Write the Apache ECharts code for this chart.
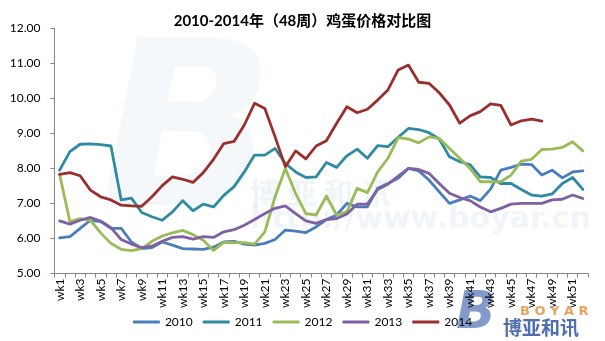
<!DOCTYPE html>
<html>
<head>
<meta charset="utf-8">
<script src="https://cdn.jsdelivr.net/npm/echarts@6/dist/echarts.min.js"></script>
<style>html,body{margin:0;padding:0;background:#fff}#c{width:605px;height:341px}</style>
</head>
<body>
<div id="c"></div>
<script>
var titleText = '2010-2014年（48周）鸡蛋价格对比图';
var weeks = [];
for (var w = 1; w <= 52; w++) weeks.push('wk' + w);
var yTicks = [5, 12, 1];
var seriesNames = ['2010', '2011', '2012', '2013', '2014'];

var v2010 = [6.02,6.05,6.29,6.52,6.48,6.29,6.29,5.90,5.71,5.74,5.90,5.81,5.71,5.70,5.69,5.75,5.90,5.92,5.84,5.81,5.86,5.97,6.24,6.21,6.17,6.33,6.54,6.67,7.00,6.90,6.90,7.43,7.57,7.72,8.00,7.93,7.67,7.33,7.00,7.10,7.21,7.08,7.41,7.95,8.03,8.12,8.11,7.81,7.95,7.73,7.90,7.93];
var v2011 = [7.95,8.48,8.69,8.70,8.68,8.64,7.10,7.15,6.74,6.62,6.52,6.76,7.08,6.79,6.98,6.90,7.23,7.48,7.90,8.38,8.38,8.57,8.14,7.90,7.74,7.76,8.17,8.03,8.36,8.55,8.29,8.65,8.62,8.89,9.14,9.11,9.02,8.84,8.33,8.19,8.11,7.76,7.74,7.57,7.57,7.40,7.24,7.21,7.27,7.57,7.74,7.40];
var v2012 = [7.83,6.48,6.57,6.52,6.16,5.86,5.69,5.65,5.71,5.92,6.07,6.16,6.23,6.11,5.95,5.66,5.89,5.88,5.88,5.84,6.19,7.19,8.00,7.29,6.71,6.67,7.21,6.67,6.76,7.43,7.31,7.90,8.29,8.88,8.84,8.73,8.90,8.86,8.57,8.29,8.00,7.62,7.62,7.62,7.81,8.21,8.26,8.54,8.55,8.60,8.76,8.50];
var v2013 = [6.50,6.41,6.52,6.60,6.50,6.31,5.97,5.84,5.74,5.78,5.92,6.03,6.05,5.98,6.05,6.03,6.19,6.25,6.38,6.54,6.71,6.86,6.93,6.71,6.50,6.43,6.54,6.57,6.70,6.98,6.98,7.40,7.55,7.78,8.00,7.97,7.86,7.57,7.29,7.17,7.08,6.90,6.76,6.86,6.98,7.00,7.00,7.00,7.10,7.12,7.24,7.14];
var v2014 = [7.83,7.88,7.79,7.38,7.19,7.10,6.95,6.93,6.92,7.19,7.51,7.76,7.69,7.60,7.88,8.26,8.71,8.77,9.24,9.86,9.71,8.90,8.05,8.50,8.27,8.64,8.79,9.29,9.76,9.59,9.69,9.95,10.24,10.81,10.95,10.46,10.43,10.16,9.81,9.29,9.50,9.62,9.84,9.80,9.24,9.36,9.41,9.35];

var values = [v2010, v2011, v2012, v2013, v2014];
var colors = ['#4a7ebb', '#2e8ba2', '#9bbb59', '#7f60a2', '#9b2f2d'];
var FONT = 'Lato, "Noto Sans CJK SC", sans-serif';

var chart = echarts.init(document.getElementById('c'), null, {renderer: 'canvas'});
chart.setOption({
  backgroundColor: '#ffffff',
  animation: false,
  color: colors,
  title: {
    text: titleText,
    left: 'center',
    top: 9,
    textStyle: {fontFamily: FONT, fontSize: 15, fontWeight: 'bold', color: '#000'}
  },
  graphic: [
    {type: 'text', left: 100, top: 30, z: 0, silent: true,
     style: {text: 'B', font: 'italic bold 230px "DejaVu Sans"', fill: 'rgba(79,129,189,0.06)'}},
    {type: 'text', left: 250, top: 178, z: 0, silent: true,
     style: {text: '博 亚 和 讯', font: 'bold 30px "Noto Sans CJK SC"', fill: 'rgba(79,129,189,0.09)'}},
    {type: 'text', left: 250, top: 205, z: 0, silent: true,
     style: {text: 'http://www.boyar.cn', font: 'bold 30px "DejaVu Sans"', fill: 'rgba(79,129,189,0.08)'}},
    {type: 'text', left: 456, top: 288, z: 0, silent: true,
     style: {text: 'B', font: 'italic bold 52px "DejaVu Sans"', fill: 'rgba(79,111,180,0.7)'}},
    {type: 'text', left: 520, top: 305, z: 10, silent: true,
     style: {text: 'B O Y A R', font: 'bold 13px "DejaVu Sans"', fill: '#e9a25b'}},
    {type: 'text', left: 503, top: 318, z: 10, silent: true,
     style: {text: '博亚和讯', font: 'bold 19px "Noto Sans CJK SC"', fill: '#4f6fb1'}}
  ],
  legend: {
    bottom: 8,
    left: 'center',
    icon: 'roundRect',
    itemWidth: 27,
    itemHeight: 3,
    itemGap: 10,
    textStyle: {fontFamily: FONT, fontSize: 12, color: '#000'},
    data: seriesNames
  },
  grid: {left: 54.5, right: 17, top: 28.3, bottom: 67.5, containLabel: false},
  xAxis: {
    type: 'category',
    data: weeks,
    boundaryGap: true,
    axisLine: {lineStyle: {color: '#868686', width: 1}},
    axisTick: {show: true, length: 4, interval: 0, lineStyle: {color: '#868686'}},
    axisLabel: {interval: 1, rotate: 90, fontFamily: FONT, fontSize: 12, color: '#000', margin: 5}
  },
  yAxis: {
    type: 'value',
    min: yTicks[0],
    max: yTicks[1],
    interval: yTicks[2],
    splitLine: {show: false},
    axisLine: {show: true, lineStyle: {color: '#868686', width: 1}},
    axisTick: {show: true, length: 4, lineStyle: {color: '#868686'}},
    axisLabel: {fontFamily: FONT, fontSize: 12, color: '#000', margin: 14,
      formatter: function (v) { return v.toFixed(2); }}
  },
  series: seriesNames.map(function (n, k) {
    return {
      name: n,
      type: 'line',
      data: values[k],
      symbol: 'none',
      smooth: false,
      lineStyle: {width: 2.8, color: colors[k], join: 'round', cap: 'round'},
      z: 3 + k
    };
  })
});
</script>
</body>
</html>
